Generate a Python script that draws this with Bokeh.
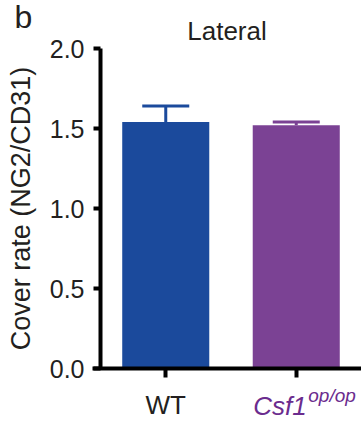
from bokeh.plotting import figure
from bokeh.models import (ColumnDataSource, Whisker, TeeHead, Label,
                          FixedTicker, NumeralTickFormatter, Range1d)
from bokeh.embed import file_html
from bokeh.resources import INLINE

# ---- data ----
groups = ["WT", "Csf1"]
means = [1.54, 1.52]
errors = [0.10, 0.02]
colors = ["#1B4A9C", "#7B4294"]
y_ticks = [0.0, 0.5, 1.0, 1.5, 2.0]

FONT = "Liberation Sans"
TXT = "#231F20"
PURPLE_TXT = "#6B2C8E"

W, H = 361, 423
# pixel layout of the plotting area inside the canvas
PL, PT, PB = 100, 48, 368          # left / top (y=2) / bottom (y=0) pixels
ymax = y_ticks[-1]
ppu_y = (PB - PT) / ymax
ppu_x = (W - PL) / len(groups)

xpos = [i + 0.5 for i in range(len(groups))]

p = figure(width=W, height=H,
           x_range=Range1d(-PL / ppu_x, (W - PL) / ppu_x),
           y_range=Range1d(-(H - PB) / ppu_y, ymax + PT / ppu_y),
           output_backend="svg", toolbar_location=None, min_border=0)
p.title = None
p.xgrid.visible = False
p.ygrid.visible = False
p.outline_line_color = None
p.background_fill_color = "white"
p.border_fill_color = "white"

src = ColumnDataSource(dict(x=xpos, m=means, c=colors))
p.vbar(x="x", top="m", width=0.667, fill_color="c", line_color=None, source=src)

for x, m, e, c in zip(xpos, means, errors, colors):
    s = ColumnDataSource(dict(x=[x], lo=[m], hi=[m + e]))
    w = Whisker(base="x", lower="lo", upper="hi", source=s, dimension="height",
                line_color=c, line_width=3,
                upper_head=TeeHead(size=47, line_color=c, line_width=3),
                lower_head=None)
    p.add_layout(w)

# ---- y axis ----
ya = p.yaxis[0]
ya.fixed_location = 0
ya.bounds = (0, ymax)
ya.ticker = FixedTicker(ticks=y_ticks)
ya.formatter = NumeralTickFormatter(format="0.0")
ya.axis_line_width = 4
ya.axis_line_color = "black"
ya.major_tick_line_width = 4
ya.major_tick_line_color = "black"
ya.major_tick_out = 7
ya.major_tick_in = 0
ya.minor_tick_line_color = None
ya.major_label_text_font = FONT
ya.major_label_text_font_size = "25px"
ya.major_label_text_color = TXT
ya.major_label_standoff = 9
ya.axis_label = "Cover rate (NG2/CD31)"
ya.axis_label_text_font = FONT
ya.axis_label_text_font_size = "27px"
ya.axis_label_text_font_style = "normal"
ya.axis_label_text_color = TXT
ya.axis_label_standoff = 11

# ---- x axis ----
xa = p.xaxis[0]
xa.fixed_location = 0
xa.bounds = (-8 / ppu_x, (W - PL) / ppu_x)
xa.ticker = FixedTicker(ticks=xpos)
xa.major_label_overrides = {xpos[0]: groups[0], xpos[1]: " "}
xa.axis_line_width = 4
xa.axis_line_color = "black"
xa.major_tick_line_width = 4
xa.major_tick_line_color = "black"
xa.major_tick_out = 9
xa.major_tick_in = 0
xa.minor_tick_line_color = None
xa.major_label_text_font = FONT
xa.major_label_text_font_size = "26px"
xa.major_label_text_color = TXT
xa.major_label_standoff = 12

# Csf1 op/op label (italic, purple, with superscript)
p.add_layout(Label(x=xpos[1], y=0, x_offset=-43, y_offset=-37, text="Csf1",
                   text_font=FONT, text_font_size="26px", text_font_style="italic",
                   text_color=PURPLE_TXT, text_align="left", text_baseline="alphabetic"))
p.add_layout(Label(x=xpos[1], y=0, x_offset=12, y_offset=-27, text="op/op",
                   text_font=FONT, text_font_size="19px", text_font_style="italic",
                   text_color=PURPLE_TXT, text_align="left", text_baseline="alphabetic"))

# title
p.add_layout(Label(x=(W + PL) / 2 - 4, y=H - 30, x_units="screen", y_units="screen",
                   text="Lateral", text_font=FONT, text_font_size="26px",
                   text_color=TXT, text_align="center", text_baseline="alphabetic"))

# panel letter
p.add_layout(Label(x=14, y=H - 16, x_units="screen", y_units="screen", text="b",
                   text_font=FONT, text_font_size="32px", text_color=TXT,
                   text_align="left", text_baseline="alphabetic"))

open("out.html", "w").write(file_html(p, INLINE))
